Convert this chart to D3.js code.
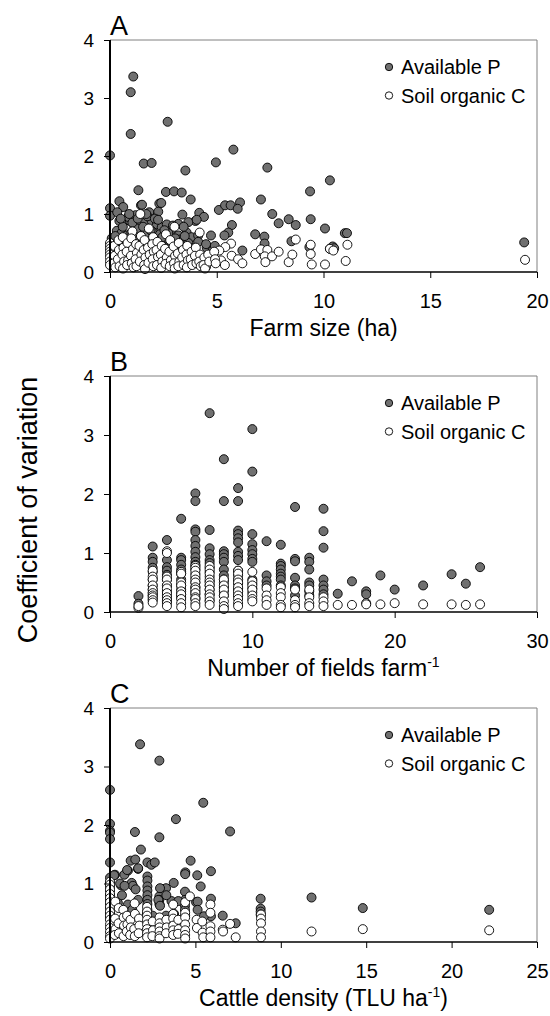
<!DOCTYPE html>
<html><head><meta charset="utf-8">
<script src="https://cdn.jsdelivr.net/npm/d3@7"></script>
<style>body{margin:0;background:#fff}svg{display:block}text{font-family:"Liberation Sans",Arial,sans-serif;fill:#000}</style>
</head><body>
<svg id="chart" width="550" height="1016"></svg>
<script>
// ---------- Data ----------
const seriesNames = ["Available P", "Soil organic C"];
const yTicks = [0, 1, 2, 3, 4];
const panelLetters = ["A", "B", "C"];
const xTicksA = [0, 5, 10, 15, 20];
const xTicksB = [0, 10, 20, 30];
const xTicksC = [0, 5, 10, 15, 20, 25];

// Panel A: farm size (ha) vs CV
const farmP = [
 [0,2.01],[1.09,3.37],[0.97,3.10],[0.97,2.38],[2.70,2.59],[1.58,1.87],[1.95,1.88],[3.53,1.75],[4.96,1.89],[5.78,2.11],
 [7.37,1.80],[10.3,1.58],[9.37,1.39],[1.33,1.41],[2.62,1.38],[3.0,1.39],[3.36,1.37],[3.78,1.25],[2.31,1.18],[7.07,1.25],
 [5.1,1.07],[5.39,1.15],[5.65,1.15],[6.09,1.20],[5.98,1.09],[0,1.10],[0,0.97],[0.44,1.22],[0.62,1.12],[0.34,1.03],
 [1.45,1.15],[7.6,1.0],[7.9,0.84],[8.37,0.91],[8.7,0.81],[9.4,0.91],[10.07,0.75],[11.0,0.67],[11.1,0.67],[19.4,0.51],
 [4.18,1.02],[4.4,0.95],[4.0,0.88],[3.39,0.99],[6.8,0.65],[7.23,0.61],[7.24,0.49],[8.5,0.53],[10.43,0.44],[6.2,0.37],
 [5.71,0.81],[5.54,0.68],[5.36,0.63],[4.73,0.63],[4.53,0.42],[4.81,0.37],[9.34,0.43],[10.3,0.40],[10.5,0.41],
 [1.84,1.03],[2.26,1.04],[2.4,1.19],[1.5,1.16],[3.2,0.83],[3.67,0.86],[4.06,0.90],
 [0.44,0.88],[0.7,0.89],[0.94,0.88],[1.14,0.80],[1.4,0.81],[1.64,0.88],[1.95,0.88],[2.2,0.82],[2.42,0.77],[2.66,0.82],[2.9,0.74],
 [0.32,0.71],[0.55,0.68],[0.78,0.63],[1.0,0.68],[1.33,0.71],[1.64,0.65],[2.0,0.69],[2.34,0.65],[2.73,0.67],[3.2,0.63],[3.59,0.68],[3.82,0.60],[4.13,0.63],
 [0.08,0.58],[0.39,0.54],[0.94,0.52],[1.48,0.56],[1.87,0.50],[2.34,0.52],[2.81,0.50],[3.28,0.56],[3.67,0.50],[4.13,0.52],[4.5,0.48],[4.91,0.45],
 [0.7,0.44],[1.33,0.44],[1.95,0.41],[2.58,0.41],[3.2,0.39],[3.83,0.41],[0.85,0.95],[1.2,0.98],[1.75,0.96],[2.1,0.92],[0.6,0.78],[1.25,0.75],[2.55,0.72],[3.45,0.78],[0.2,0.40],[2.95,0.80],
 [0.5,0.92],[1.05,0.85],[1.55,0.78],[1.9,0.72],[2.45,0.60],[2.05,0.58],[1.15,0.60],[0.25,0.62],[3.05,0.58],[3.5,0.62],[2.25,0.90],[1.7,1.0],[0.9,1.0],[1.3,0.92]
];
const farmC = [
 [5.67,0.49],[5.4,0.43],[5.12,0.37],[5.2,0.20],[5.38,0.12],[5.7,0.28],[6.0,0.22],[6.2,0.15],
 [6.8,0.31],[7.07,0.39],[7.37,0.38],[7.25,0.27],[7.28,0.17],[7.59,0.27],[7.9,0.35],[8.37,0.17],[8.54,0.30],[8.7,0.56],
 [9.4,0.47],[9.4,0.31],[9.45,0.13],[10.07,0.13],[10.3,0.40],[10.46,0.37],[11.04,0.19],[11.12,0.47],[19.44,0.21],[4.5,0.09],
 [0,0.50],[0,0.45],[0,0.40],[0,0.35],[0,0.30],[0,0.25],[0,0.18],[0,0.12],
 [0.2,0.45],[0.22,0.28],[0.18,0.15],[0.25,0.08],[0.4,0.55],[0.42,0.38],[0.37,0.22],[0.45,0.10],
 [0.6,0.60],[0.63,0.42],[0.58,0.30],[0.66,0.18],[0.61,0.06],[0.82,0.50],[0.78,0.35],[0.85,0.20],[0.8,0.12],
 [1.05,0.70],[1.0,0.58],[1.08,0.40],[0.98,0.28],[1.02,0.15],[1.1,0.08],[1.22,0.48],[1.26,0.33],[1.2,0.22],[1.24,0.10],
 [1.42,1.0],[1.45,0.62],[1.38,0.45],[1.47,0.30],[1.4,0.18],[1.62,0.55],[1.58,0.38],[1.66,0.25],[1.6,0.12],[1.64,0.05],
 [1.82,0.75],[1.78,0.42],[1.86,0.30],[1.8,0.16],[2.02,0.60],[1.98,0.48],[2.05,0.35],[2.0,0.22],[2.03,0.10],
 [2.22,0.52],[2.18,0.38],[2.25,0.26],[2.2,0.12],[2.42,0.45],[2.38,0.30],[2.45,0.18],[2.4,0.07],
 [2.62,0.65],[2.58,0.40],[2.66,0.25],[2.6,0.14],[2.82,0.55],[2.78,0.35],[2.85,0.20],[2.8,0.10],
 [3.02,0.78],[2.98,0.44],[3.05,0.28],[3.0,0.15],[3.03,0.06],[3.22,0.50],[3.18,0.32],[3.25,0.18],[3.2,0.10],
 [3.42,0.38],[3.38,0.25],[3.45,0.12],[3.62,0.45],[3.58,0.30],[3.65,0.20],[3.6,0.08],
 [3.82,0.35],[3.78,0.22],[3.85,0.12],[4.02,0.42],[3.98,0.28],[4.05,0.15],
 [4.2,0.68],[4.22,0.30],[4.18,0.18],[4.25,0.10],[4.42,0.25],[4.38,0.12],[4.45,0.06],[4.6,0.30],[4.65,0.18],
 [4.88,0.35],[4.92,0.22],[4.95,0.15]
];

// Panel B: number of fields per farm vs CV
const fieldsP = [
 [2,0.27],[2,0.14],
 [3,1.11],[3,0.92],[3,0.85],[3,0.75],[3,0.68],[3,0.55],[3,0.45],[3,0.38],[3,0.33],[3,0.28],[3,0.22],
 [4,1.22],[4,0.88],[4,0.76],[4,0.70],[4,0.63],[4,0.55],[4,0.45],[4,0.35],[4,0.28],[4,0.22],[4,0.18],
 [5,1.58],[5,0.92],[5,0.88],[5,0.80],[5,0.72],[5,0.65],[5,0.55],[5,0.45],[5,0.38],[5,0.30],[5,0.25],
 [6,2.01],[6,1.88],[6,1.40],[6,1.36],[6,1.22],[6,1.12],[6,1.02],[6,0.93],[6,0.85],[6,0.80],[6,0.72],[6,0.65],[6,0.58],[6,0.50],[6,0.42],[6,0.35],[6,0.30],[6,0.22],
 [7,3.37],[7,1.39],[7,1.08],[7,0.98],[7,0.88],[7,0.83],[7,0.75],[7,0.68],[7,0.60],[7,0.52],[7,0.45],[7,0.38],[7,0.30],[7,0.20],
 [8,2.59],[8,1.88],[8,1.03],[8,0.98],[8,0.92],[8,0.85],[8,0.72],[8,0.62],[8,0.55],[8,0.50],[8,0.42],[8,0.35],[8,0.28],
 [9,2.10],[9,1.88],[9,1.38],[9,1.32],[9,1.25],[9,1.18],[9,1.02],[9,0.95],[9,0.88],[9,0.70],[9,0.62],[9,0.55],[9,0.48],[9,0.40],[9,0.35],[9,0.28],
 [10,3.10],[10,2.38],[10,1.32],[10,1.15],[10,1.05],[10,0.98],[10,0.90],[10,0.85],[10,0.55],[10,0.48],[10,0.40],[10,0.33],
 [11,1.20],[11,0.62],[11,0.52],[11,0.45],
 [12,1.14],[12,0.82],[12,0.78],[12,0.72],[12,0.65],[12,0.60],[12,0.55],[12,0.45],
 [13,1.78],[13,0.90],[13,0.86],[13,0.58],[13,0.45],[13,0.40],[13,0.28],
 [14,0.92],[14,0.85],[14,0.72],[14,0.50],[14,0.45],[14,0.35],[14,0.28],
 [15,1.75],[15,1.37],[15,1.09],[15,0.55],[15,0.45],[15,0.38],[15,0.30],
 [16,0.31],[17,0.52],[18,0.35],[18,0.30],[19,0.62],[20,0.38],[22,0.45],[24,0.64],[25,0.48],[26,0.76]
];
const fieldsC = [
 [2,0.07],[2,0.10],
 [3,0.70],[3,0.60],[3,0.55],[3,0.45],[3,0.38],[3,0.32],[3,0.28],[3,0.25],[3,0.20],[3,0.16],
 [4,1.03],[4,1.0],[4,0.60],[4,0.55],[4,0.45],[4,0.40],[4,0.32],[4,0.25],[4,0.20],[4,0.15],[4,0.10],
 [5,0.68],[5,0.65],[5,0.50],[5,0.45],[5,0.35],[5,0.30],[5,0.22],[5,0.15],[5,0.08],
 [6,0.78],[6,0.75],[6,0.70],[6,0.62],[6,0.55],[6,0.50],[6,0.42],[6,0.38],[6,0.32],[6,0.25],[6,0.22],[6,0.15],[6,0.10],
 [7,0.78],[7,0.72],[7,0.65],[7,0.55],[7,0.50],[7,0.45],[7,0.38],[7,0.30],[7,0.25],[7,0.18],[7,0.12],
 [8,0.55],[8,0.45],[8,0.38],[8,0.28],[8,0.18],[8,0.10],[8,0.05],
 [9,0.70],[9,0.65],[9,0.55],[9,0.50],[9,0.42],[9,0.35],[9,0.28],[9,0.22],[9,0.15],[9,0.10],
 [10,0.68],[10,0.52],[10,0.45],[10,0.38],[10,0.28],[10,0.22],[10,0.18],
 [11,0.40],[11,0.28],[11,0.20],[11,0.12],
 [12,0.42],[12,0.32],[12,0.25],[12,0.12],[12,0.08],
 [13,0.38],[13,0.20],[13,0.12],[13,0.08],
 [14,0.38],[14,0.25],[14,0.15],[14,0.10],
 [15,0.25],[15,0.18],[15,0.10],
 [16,0.12],[17,0.12],[18,0.15],[18,0.13],[19,0.13],[20,0.15],[22,0.13],[24,0.13],[25,0.12],[26,0.13]
];

// Panel C: cattle density (TLU/ha) vs CV
const cattleP = [
 [0,2.60],[0,2.02],[0,1.90],[0,1.87],[0,1.76],[0,1.36],[1.76,3.38],[2.89,3.10],[5.46,2.38],[3.86,2.10],[7.03,1.89],
 [1.46,1.88],[2.89,1.79],[1.81,1.58],[1.64,1.25],[1.21,1.39],[1.48,1.41],[2.19,1.36],[2.42,1.32],[2.62,1.36],
 [4.72,1.39],[4.41,1.19],[5.11,1.14],[5.91,1.21],[5.31,0.95],[3.73,1.01],[3.28,0.92],[1.05,1.22],[0.84,1.15],[0.29,1.15],
 [0.64,0.97],[1.27,1.01],[2.19,1.12],[2.19,1.05],[2.19,0.95],[2.19,0.88],[2.19,0.80],[2.19,0.72],[2.19,0.65],[2.19,0.55],
 [2.89,0.78],[2.89,0.72],[2.89,0.65],[5.91,0.74],[5.91,0.44],[6.6,0.45],[7.36,0.32],[8.82,0.74],[8.82,0.57],[8.82,0.52],[8.82,0.47],
 [11.8,0.76],[14.8,0.58],[22.2,0.55],[5.04,0.68],[4.39,0.86],[4.39,0.72],[4.39,0.62],[4.39,0.55],
 [0,1.10],[0,1.02],[0,0.95],[0,0.88],[0,0.80],[0,0.72],[0,0.65],[0,0.58],[0,0.50],[0,0.45],[0,0.40],
 [0.24,1.14],[0.59,1.0],[1.0,1.23],[1.34,0.96],[0.85,0.96],[0.46,0.67],[1.05,0.64],[1.65,0.72],[1.65,1.26],
 [2.93,0.92],[4.4,1.16],[5.13,0.69],[5.13,0.55],[5.5,0.44],[2.83,0.72],[2.93,0.62],[3.6,0.70],[4.0,0.70],
 [2.17,0.50],[2.17,0.45],[2.5,0.45],[3.28,0.45],[3.75,0.48],[1.3,0.55],[0.7,0.80],[1.5,0.90],[3.3,0.80],[4.4,0.45]
];
const cattleC = [
 [0,1.03],[0,0.98],[0,0.90],[0,0.82],[0,0.75],[0,0.68],[0,0.60],[0,0.52],[0,0.45],[0,0.38],[0,0.30],[0,0.24],[0,0.17],[0,0.10],[0,0.06],
 [0.31,0.69],[0.3,0.40],[0.32,0.22],[0.28,0.12],[0.51,0.58],[0.5,0.32],[0.52,0.15],
 [0.78,0.55],[0.8,0.42],[0.82,0.28],[0.79,0.10],[1.0,0.45],[1.02,0.30],[0.98,0.18],
 [1.2,0.38],[1.22,0.25],[1.18,0.12],[1.44,0.66],[1.46,0.48],[1.42,0.22],[1.45,0.10],
 [1.7,0.40],[1.72,0.28],[1.68,0.15],
 [2.17,0.60],[2.17,0.52],[2.17,0.45],[2.17,0.38],[2.17,0.30],[2.17,0.22],[2.17,0.15],[2.17,0.08],
 [2.5,0.35],[2.52,0.20],[2.48,0.10],[2.9,0.42],[2.9,0.32],[2.9,0.25],[2.9,0.18],[2.9,0.10],[2.9,0.06],
 [3.3,0.38],[3.32,0.25],[3.28,0.15],[3.7,0.64],[3.7,0.48],[3.7,0.40],[3.7,0.28],[3.7,0.20],[3.7,0.12],
 [4.0,0.38],[4.02,0.22],[3.98,0.14],[4.4,0.68],[4.4,0.50],[4.4,0.42],[4.4,0.30],[4.4,0.20],[4.4,0.12],[4.4,0.06],
 [4.68,0.78],[5.07,0.38],[5.09,0.24],[5.4,0.35],[5.42,0.16],[5.46,0.08],
 [5.88,0.64],[5.88,0.50],[5.88,0.27],[5.88,0.18],[5.88,0.08],[6.6,0.21],[6.62,0.18],[7.03,0.31],[7.36,0.08],
 [8.84,0.47],[8.84,0.40],[8.84,0.32],[8.84,0.18],[8.84,0.08],[11.8,0.18],[14.8,0.22],[22.2,0.20]
];

// ---------- Drawing ----------
const svg = d3.select("#chart");
const left = 110, right = 537;
const panels = [
 {letter: panelLetters[0], top: 40, bottom: 272, xMax: 20, xTicks: xTicksA, P: farmP, C: farmC, title: ["Farm size (ha)", null, null]},
 {letter: panelLetters[1], top: 376, bottom: 612, xMax: 30, xTicks: xTicksB, P: fieldsP, C: fieldsC, title: ["Number of fields farm", "-1", null]},
 {letter: panelLetters[2], top: 708, bottom: 942, xMax: 25, xTicks: xTicksC, P: cattleP, C: cattleC, title: ["Cattle density (TLU ha", "-1", ")"]}
];
const fills = ["#707070", "#ffffff"];

panels.forEach(p => {
  const x = d3.scaleLinear().domain([0, p.xMax]).range([left, right]);
  const y = d3.scaleLinear().domain([0, 4]).range([p.bottom, p.top]);
  const g = svg.append("g");

  g.append("path").attr("d", `M${left},${p.top}H${right}V${p.bottom}`)
    .attr("fill", "none").attr("stroke", "#808080").attr("stroke-width", 1);

  [p.P, p.C].forEach((data, i) => {
    g.append("g").selectAll("circle").data(data).join("circle")
      .attr("cx", d => x(d[0])).attr("cy", d => y(d[1])).attr("r", 4.5)
      .attr("fill", fills[i]).attr("stroke", "#000").attr("stroke-width", 0.9);
  });

  const ya = g.append("g").attr("transform", `translate(${left},0)`)
    .call(d3.axisLeft(y).tickValues(yTicks).tickSize(6).tickPadding(10).tickFormat(d3.format("d")));
  ya.select(".domain").attr("stroke-width", 2).attr("d", `M0,${p.bottom}V${p.top}`);
  ya.selectAll("text").attr("font-size", 19).attr("font-family", '"Liberation Sans",Arial,sans-serif');

  const xa = g.append("g").attr("transform", `translate(0,${p.bottom})`)
    .call(d3.axisBottom(x).tickValues(p.xTicks).tickSize(6).tickPadding(16).tickFormat(d3.format("d")));
  xa.select(".domain").attr("stroke-width", 1.5).attr("d", `M${left},0H${right}`);
  xa.selectAll("text").attr("font-size", 20).attr("font-family", '"Liberation Sans",Arial,sans-serif');

  g.append("text").attr("x", left).attr("y", p.top - 5).attr("font-size", 27).text(p.letter);

  const t = g.append("text").attr("x", (left + right) / 2).attr("y", p.bottom + 64)
    .attr("text-anchor", "middle").attr("font-size", 23);
  t.append("tspan").text(p.title[0]);
  if (p.title[1]) t.append("tspan").attr("dy", -9).attr("font-size", 14).text(p.title[1]);
  if (p.title[2]) t.append("tspan").attr("dy", 9).text(p.title[2]);

  seriesNames.forEach((name, i) => {
    const ly = p.top + 27 + i * 28.5;
    g.append("circle").attr("cx", 389).attr("cy", ly).attr("r", 3.7)
      .attr("fill", fills[i]).attr("stroke", "#000").attr("stroke-width", 0.9);
    g.append("text").attr("x", 401).attr("y", ly + 7).attr("font-size", 20).text(name);
  });
});

svg.append("text").attr("transform", "translate(37,510) rotate(-90)")
  .attr("text-anchor", "middle").attr("font-size", 27).text("Coefficient of variation");
</script>
</body></html>
